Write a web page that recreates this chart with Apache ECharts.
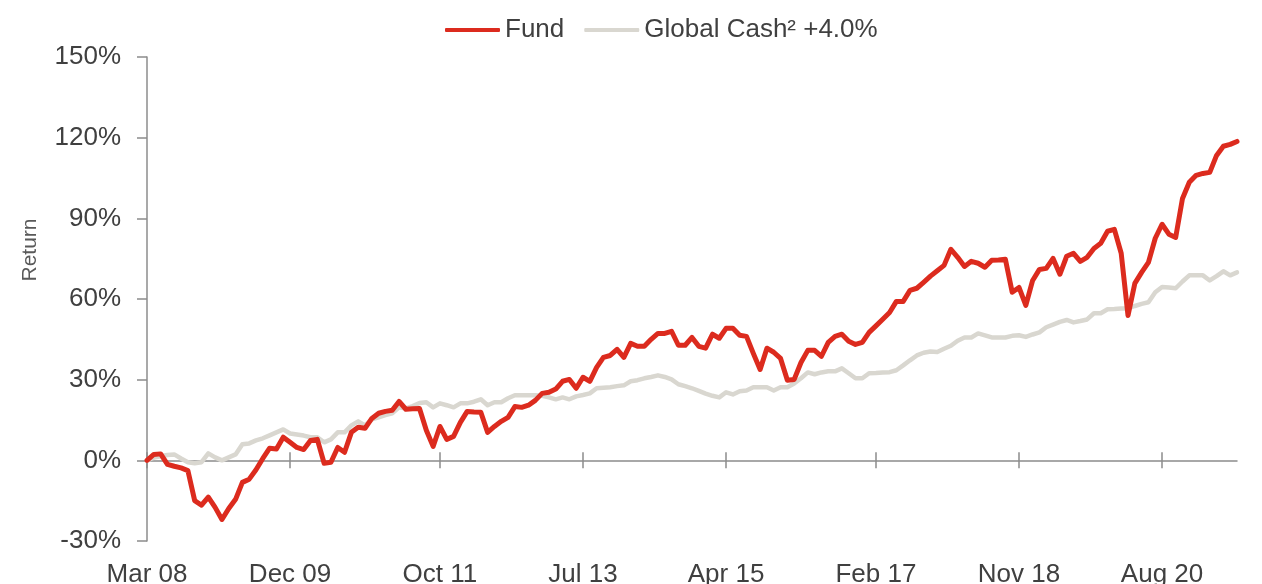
<!DOCTYPE html>
<html>
<head>
<meta charset="utf-8">
<script src="https://cdn.jsdelivr.net/npm/echarts@6/dist/echarts.min.js"></script>
<style>html,body{margin:0;padding:0;background:#fff;}#c{width:1262px;height:584px;}</style>
</head>
<body>
<div id="c"></div>
<script>
const monthNames = ['Jan','Feb','Mar','Apr','May','Jun','Jul','Aug','Sep','Oct','Nov','Dec'];
const startYear = 2008;
const startMonth = 2; // March

const fund = [
  0, 2.2, 2.4, -1.5, -2.2, -2.8, -3.8, -15, -16.7, -13.7,
  -17.5, -22, -17.9, -14.5, -8.2, -7, -3.5, 0.7, 4.5, 4.2,
  8.6, 6.7, 4.8, 4, 7.4, 7.8, -1.1, -0.7, 4.8, 3,
  10.4, 12.3, 11.9, 15.6, 17.5, 18.2, 18.6, 21.9, 19, 19.2,
  19.3, 11.2, 5.2, 12.6, 7.8, 8.9, 14.1, 18.2, 18, 17.9,
  10.4, 12.6, 14.5, 16, 20, 19.7, 20.5, 22.3, 24.9, 25.3,
  26.5, 29.4, 30.1, 26.8, 30.9, 29.4, 34.6, 38.3, 39, 41.3,
  38.3, 43.5, 42.4, 42.4, 45, 47.2, 47.2, 48, 42.8, 42.8,
  45.7, 42.4, 41.7, 46.9, 45.4, 49.1, 49.1, 46.5, 46.1, 39.8,
  33.8, 41.7, 40.2, 37.9, 29.8, 30.1, 36.4, 40.9, 40.9, 38.7,
  43.9, 46.1, 46.9, 44.3, 43.1, 43.9, 47.6, 50, 52.5, 55,
  59.1, 59.1, 63.2, 64, 66.2, 68.5, 70.5, 72.5, 78.5, 75.5,
  72.1, 74, 73.3, 71.8, 74.4, 74.5, 74.8, 62.5, 64.3, 57.6,
  66.9, 71, 71.4, 75.1, 69.2, 75.9, 77, 74, 75.5, 78.8,
  80.7, 85.2, 85.9, 77, 53.9, 65.8, 69.9, 73.6, 82.6, 87.8,
  84.1, 82.9, 97.4, 103.4, 106, 106.7, 107.1, 113.4, 116.8, 117.5,
  118.6
];

const globalCash = [
  0, 1, 1.5, 2, 2.2, 0.7, -0.7, -1.1, -0.7, 2.6,
  1.1, 0, 1.1, 2.2, 6, 6.3, 7.4, 8.2, 9.3, 10.4,
  11.5, 10, 9.6, 9.2, 8.6, 8.6, 6.7, 7.8, 10.4, 10.4,
  13, 14.5, 13, 15.2, 16, 16.8, 17.5, 19.7, 19.3, 20.2,
  21.3, 21.6, 19.7, 21.2, 20.5, 19.7, 21.2, 21.2, 21.8, 22.7,
  20.5, 21.6, 21.6, 23.1, 24.2, 24.2, 24.2, 24.2, 24, 23.4,
  22.7, 23.4, 22.7, 23.8, 24.3, 24.9, 26.8, 27, 27.2, 27.6,
  27.9, 29.4, 29.8, 30.5, 31, 31.6, 31, 30.1, 28.3, 27.6,
  26.8, 25.8, 24.8, 24, 23.4, 25.3, 24.5, 25.7, 26, 27.2,
  27.2, 27.2, 26, 27.2, 27.2, 28.6, 30.5, 32.7, 32, 32.7,
  33.1, 33.1, 34.2, 32.4, 30.5, 30.5, 32.4, 32.5, 32.7, 32.8,
  33.5, 35.3, 37.2, 39, 40, 40.5, 40.3, 41.5, 42.6, 44.5,
  45.7, 45.7, 47.2, 46.5, 45.7, 45.7, 45.7, 46.3, 46.5, 45.9,
  46.8, 47.6, 49.5, 50.5, 51.5, 52.2, 51.3, 51.8, 52.4, 54.7,
  54.7, 56.2, 56.3, 56.5, 56.5, 57.4, 58.2, 58.8, 62.5, 64.5,
  64.3, 64, 66.5, 68.8, 68.8, 68.8, 66.9, 68.5, 70.3, 68.8,
  69.9
];

const xTickLabels = ['Mar 08','Dec 09','Oct 11','Jul 13','Apr 15','Feb 17','Nov 18','Aug 20'];
const seriesNames = ['Fund', 'Global Cash\u00B2 +4.0%'];
const yMin = -30, yMax = 150, yStep = 30;

const categories = fund.map((_, i) => {
  const m = startMonth + i;
  const y = startYear + Math.floor(m / 12);
  return monthNames[m % 12] + ' ' + String(y % 100).padStart(2, '0');
});
const showTick = (idx, val) => xTickLabels.indexOf(val) >= 0;

const axisColor = '#8c8c8c';
const textColor = '#404040';
const font = 'Liberation Sans, Arial, sans-serif';

const gridTop = 57, gridBottom = 43, H = 584;
const gridH = H - gridTop - gridBottom;
const zeroOffset = -gridH * (0 - yMin) / (yMax - yMin);

const chart = echarts.init(document.getElementById('c'), null, {renderer: 'canvas'});
chart.setOption({
  animation: false,
  backgroundColor: '#ffffff',
  textStyle: {fontFamily: font},
  grid: {left: 147, right: 25, top: gridTop, bottom: gridBottom, containLabel: false, outerBoundsMode: 'none'},
  legend: {
    left: 440, top: 12,
    itemWidth: 55, itemHeight: 4, itemGap: 20,
    icon: 'roundRect',
    data: seriesNames,
    textStyle: {fontSize: 26, color: textColor, fontFamily: font}
  },
  xAxis: [
    {
      type: 'category', data: categories, boundaryGap: false, position: 'bottom',
      axisLine: {show: true, onZero: false, lineStyle: {color: axisColor, width: 1.5}},
      axisTick: {show: true, inside: true, length: 8, interval: showTick, lineStyle: {color: axisColor, width: 1.5}},
      axisLabel: {show: false},
      offset: zeroOffset,
      splitLine: {show: false}
    },
    {
      type: 'category', data: categories, boundaryGap: false, position: 'bottom',
      axisLine: {show: false, onZero: false},
      axisTick: {show: true, inside: false, length: 8, interval: showTick, lineStyle: {color: axisColor, width: 1.5}},
      axisLabel: {interval: showTick, margin: 21 - zeroOffset, fontSize: 26, color: textColor, fontFamily: font},
      offset: zeroOffset,
      splitLine: {show: false}
    }
  ],
  yAxis: {
    type: 'value', min: yMin, max: yMax, interval: yStep,
    name: 'Return', nameLocation: 'middle', nameGap: 106, nameRotate: 90,
    nameTextStyle: {fontSize: 21, color: '#595959', fontFamily: font, padding: [0, 0, 0, 98]},
    axisLine: {show: true, onZero: false, lineStyle: {color: axisColor, width: 1.5}},
    axisTick: {show: true, inside: false, length: 10, lineStyle: {color: axisColor, width: 1.5}},
    axisLabel: {margin: 26, fontSize: 26, color: textColor, fontFamily: font, formatter: v => v + '%'},
    splitLine: {show: false}
  },
  series: [
    {
      name: seriesNames[0], type: 'line', data: fund, xAxisIndex: 0,
      showSymbol: false, symbol: 'none', z: 4,
      lineStyle: {color: '#dc2b1e', width: 5, join: 'round', cap: 'round'},
      itemStyle: {color: '#dc2b1e'}
    },
    {
      name: seriesNames[1], type: 'line', data: globalCash, xAxisIndex: 0,
      showSymbol: false, symbol: 'none', z: 3,
      lineStyle: {color: '#d9d7d0', width: 4.5, join: 'round', cap: 'round'},
      itemStyle: {color: '#d9d7d0'}
    }
  ]
});
</script>
</body>
</html>
